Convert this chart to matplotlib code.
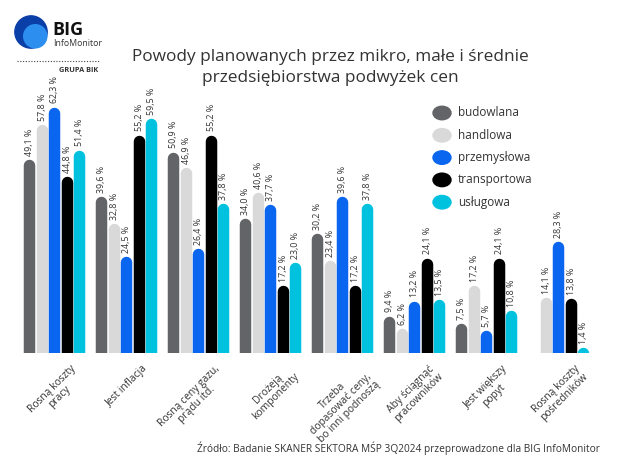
import matplotlib
matplotlib.use("Agg")
import matplotlib.pyplot as plt
from matplotlib.patches import Circle
import numpy as np

plt.rcParams['font.family'] = ['Open Sans', 'DejaVu Sans']

# data (percent)
categories = ["Rosną koszty\npracy", "Jest inflacja", "Rosną ceny gazu,\nprądu itd.",
              "Drożeją\nkomponenty", "Trzeba\ndopasować ceny,\nbo inni podnoszą",
              "Aby ściągnąć\npracowników", "Jest większy\npopyt", "Rosną koszty\npośredników"]
series = ["budowlana", "handlowa", "przemysłowa", "transportowa", "usługowa"]
budowlana = [49.1, 39.6, 50.9, 34.0, 30.2, 9.4, 7.5, None]
handlowa = [57.8, 32.8, 46.9, 40.6, 23.4, 6.2, 17.2, 14.1]
przemyslowa = [62.3, 24.5, 26.4, 37.7, 39.6, 13.2, 5.7, 28.3]
transportowa = [44.8, 55.2, 55.2, 17.2, 17.2, 24.1, 24.1, 13.8]
uslugowa = [51.4, 59.5, 37.8, 23.0, 37.8, 13.5, 10.8, 1.4]
values = [budowlana, handlowa, przemyslowa, transportowa, uslugowa]
colors = ["#636467", "#d9d9d9", "#0a66ee", "#000000", "#00c1de"]

title = "Powody planowanych przez mikro, małe i średnie\nprzedsiębiorstwa podwyżek cen"
source = "Źródło: Badanie SKANER SEKTORA MŚP 3Q2024 przeprowadzone dla BIG InfoMonitor"

W, H = 620, 465
fig = plt.figure(figsize=(6.2, 4.65), dpi=100)
fig.patch.set_facecolor("white")

# main axes: baseline at y=353px, ~3.95 px per percent
px_per = 3.95
ax_bottom, ax_top = 353, 85
ax = fig.add_axes([18 / W, (H - ax_bottom) / H, 584 / W, (ax_bottom - ax_top) / H])
ax.set_xlim(-0.5, 7.61)
ax.set_ylim(0, (ax_bottom - ax_top) / px_per)
ax.axis("off")

step = 12.5 / 72.0
bar_px = 11.5
lw = bar_px * 72 / 100
cap = (bar_px / 2) / px_per
for j, (vals, col) in enumerate(zip(values, colors)):
    for i, v in enumerate(vals):
        if v is None:
            continue
        x = i + (j - 2) * step
        top = max(v - cap, 0)
        ax.plot([x, x], [-5, top], color=col, lw=lw, solid_capstyle="round")
        ax.annotate(f"{v:.1f} %".replace(".", ","), (x, v), xytext=(0.5, 2.5),
                    textcoords="offset points", rotation=90, ha="center", va="bottom",
                    fontsize=6.4, color="#333333")

for i, lab in enumerate(categories):
    ax.text(i + 0.22, -2.6, lab, rotation=45, rotation_mode="anchor", ha="right", va="top",
            multialignment="center", fontsize=7.4, color="#333333", linespacing=1.05)

# legend
for k, (name, col) in enumerate(zip(series, colors)):
    yy = 113 + k * 22.3
    fig.patches.append(Circle((442 / W, 1 - yy / H), 9 / W, transform=fig.transFigure,
                              color=col))
    fig.text(458 / W, 1 - yy / H, name, fontsize=8.5, va="center", color="#333333")

fig.text(330 / W, 1 - 49 / H, title, ha="center", va="top", fontsize=12.4,
         color="#333333", linespacing=1.4)
fig.text(600 / W, 1 - 448 / H, source, ha="right", va="center", fontsize=7.3,
         color="#333333")

# logo
lax = fig.add_axes([14 / W, 1 - 49 / H, 34 / W, 34 / H])
lax.set_xlim(-1, 1)
lax.set_ylim(-1, 1)
lax.set_aspect("equal")
lax.axis("off")
lax.add_patch(Circle((0, 0), 0.95, color="#0b3fa8"))
lax.add_patch(Circle((0.25, -0.25), 0.68, color="#2c8ff0"))
fig.text(52 / W, 1 - 30 / H, "BIG", fontsize=13, fontweight="bold", va="center",
         color="#111111")
fig.text(53 / W, 1 - 43 / H, "InfoMonitor", fontsize=6.3, va="center", color="#333333")
fig.lines.append(plt.Line2D([17 / W, 99 / W], [1 - 61 / H, 1 - 61 / H],
                            transform=fig.transFigure, color="#444444", lw=0.8,
                            ls=(0, (1, 1.5))))
fig.text(98 / W, 1 - 70 / H, "GRUPA BIK", fontsize=5.3, fontweight="bold", ha="right",
         va="center", color="#333333")

fig.savefig("out.png", dpi=100, facecolor="white")
